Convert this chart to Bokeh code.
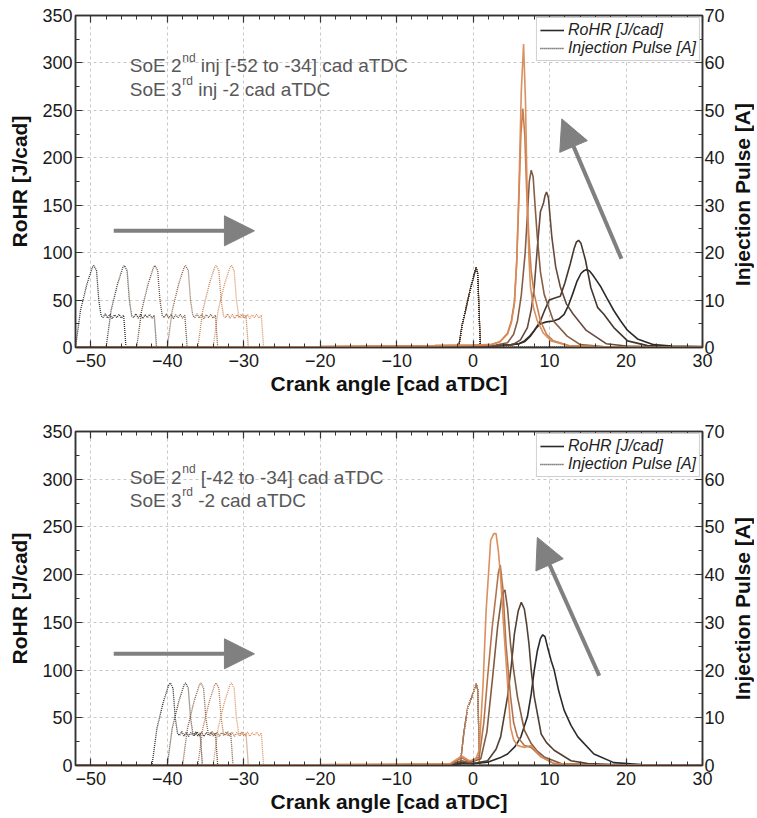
import math
from bokeh.plotting import figure
from bokeh.models import (Range1d, LinearAxis, SingleIntervalTicker, Arrow, NormalHead,
                          Label, Legend, LegendItem, CustomJSTickFormatter, Div)
from bokeh.layouts import column, row
from bokeh.embed import file_html
from bokeh.resources import INLINE

FONT = "Liberation Sans"

# ---------------- data: top panel (SoE 2nd inj -52 ... -34) ----------------
top_soe2 = [-52, -48, -44, -40, -36, -34]
top_colors = ["#1f1f1f", "#3b2c22", "#5e4030", "#80553a", "#c27844", "#d98a55"]

top_rohr_x = [
    [-52, -20, -5, 0, 3, 5, 6.0, 6.7, 7.5, 8.2, 8.8, 9.6, 10.5, 11.2, 11.9, 12.5, 13.0, 13.6, 14.1, 14.5,
     14.8, 15.2, 15.6, 16.2, 16.7, 17.5, 18.4, 19.3, 20.2, 21.5, 23.6, 26, 30],
    [-52, -20, -5, 0, 3, 5, 6.0, 6.7, 7.4, 8.0, 8.8, 9.4, 9.95, 10.6, 11.4, 12.0, 12.7, 13.2, 13.5, 13.8,
     14.1, 14.7, 15.4, 16.3, 17.1, 18.4, 20.2, 22.8, 26, 30],
    [-52, -20, -5, 0, 3, 5.2, 6.2, 7.1, 7.6, 8.0, 8.4, 8.8, 9.2, 9.4, 9.6, 9.85, 10.3, 10.8, 11.4, 12.2,
     13.1, 14.8, 17.4, 20, 25, 30],
    [-52, -20, -5, 0, 3, 4.5, 5.3, 5.8, 6.3, 6.8, 7.1, 7.35, 7.6, 7.85, 8.1, 8.4, 8.8, 9.3, 10.5, 12.3,
     14.0, 17, 22, 30],
    [-52, -20, -5, 0, 2.3, 3.5, 4.5, 5.0, 5.4, 5.7, 6.0, 6.25, 6.5, 6.75, 7.0, 7.3, 7.6, 8.0, 8.8, 9.6,
     10.5, 12.5, 16, 22, 30],
    [-52, -20, -5, 0, 2.3, 3.5, 4.5, 5.0, 5.4, 5.7, 6.0, 6.3, 6.6, 6.85, 7.1, 7.3, 7.5, 7.9, 8.4, 9.2,
     10.2, 12.5, 16, 22, 30],
]
top_rohr_y = [
    [0, 0.5, 1, 1.5, 2, 3, 4, 6, 12, 20, 25, 27, 28, 30, 35, 45, 56, 70, 78, 81,
     82, 81, 77, 70, 64, 52, 39, 28, 18, 9, 3, 1.5, 1],
    [0, 0.5, 1, 1.5, 2, 3, 4, 7, 12, 18, 28, 40, 50, 52, 54, 68, 88, 104, 111, 113,
     110, 92, 63, 42, 35, 21, 7, 2, 1, 0.5],
    [0, 0.5, 1, 1.5, 2, 3, 8, 21, 40, 64, 105, 143, 152, 160, 164, 158, 116, 85, 64, 46,
     35, 18, 4, 1.5, 0.5, 0.3],
    [0, 0.5, 1, 1.5, 2.5, 5, 14, 28, 55, 99, 140, 175, 187, 180, 150, 116, 80, 56, 28, 12,
     3, 1, 0.5, 0.2],
    [0, 1, 2, 2.5, 3, 6, 15, 28, 48, 90, 160, 225, 252, 225, 165, 115, 80, 56, 28, 14,
     7, 2, 1, 0.5, 0.2],
    [0, 1, 2, 2.5, 3, 6, 14, 26, 46, 90, 169, 270, 320, 260, 148, 95, 64, 42, 28, 15,
     7, 2, 1, 0.5, 0.2],
]

# ---------------- data: bottom panel (SoE 2nd inj -42 ... -34) ----------------
bot_soe2 = [-42, -40, -38, -36, -34]
bot_colors = ["#1f1f1f", "#4a3628", "#7a5236", "#b06c42", "#d98a55"]

bot_rohr_x = [
    [-52, -20, -3, -1.5, 0, 1.9, 3.5, 4.5, 5.5, 6.25, 7.1, 7.6, 8.0, 8.4, 8.8, 9.1, 9.4, 9.8, 10.2, 10.6,
     11.2, 11.9, 12.8, 13.7, 15.8, 18.4, 22, 30],
    [-52, -20, -3, -1.5, 0, 1.9, 3.0, 3.6, 4.5, 5.0, 5.4, 5.9, 6.3, 6.7, 7.0, 7.3, 7.6, 8.0, 8.9, 9.6,
     10.6, 12.8, 15, 20, 30],
    [-52, -20, -3, -1.5, -0.5, 1.0, 1.8, 2.56, 3.2, 3.8, 4.16, 4.5, 4.9, 5.3, 5.8, 6.7, 7.6, 8.4, 9.3, 11.5,
     15, 30],
    [-52, -20, -3, -1.5, -0.5, 0.8, 1.4, 1.9, 2.5, 3.0, 3.3, 3.55, 3.9, 4.3, 4.9, 5.3, 5.8, 6.7, 7.6, 8.9,
     10.6, 14, 30],
    [-52, -20, -3, -1.5, -0.5, 0.3, 0.8, 1.3, 1.7, 2.3, 2.7, 3.0, 3.3, 3.6, 4.0, 4.3, 4.9, 5.3, 5.8, 6.7,
     7.6, 8.9, 10.6, 14, 30],
]
bot_rohr_y = [
    [0, 0.5, 1, 2, 2, 3.5, 8, 12, 20, 30, 51, 75, 100, 120, 133, 137, 135, 122, 110, 100,
     78, 58, 42, 30, 12, 3, 1, 0.3],
    [0, 0.5, 1, 3, 2, 5, 17, 30, 72, 105, 138, 162, 171, 164, 148, 128, 100, 72, 33, 24,
     16, 5, 2, 0.5, 0.2],
    [0, 0.5, 1, 5, 3, 7, 35, 93, 145, 180, 184, 165, 127, 100, 72, 37, 23, 15, 9, 2,
     1, 0.2],
    [0, 0.5, 1, 8, 4, 9, 45, 93, 145, 180, 202, 210, 185, 127, 72, 45, 30, 21, 19, 9,
     2, 1, 0.2],
    [0, 1, 2, 10, 5, 6, 16, 85, 162, 236, 243, 243, 225, 197, 145, 110, 40, 27, 21, 19,
     21, 9, 2, 1, 0.2],
]

# ---------------- injection pulse shapes (A) ----------------
# 2nd injection: offsets from SoE [cad] and current [A]
pulse2_dx = [0, 0.65, 1.5, 2.2, 2.4, 2.75, 3.05, 3.35, 3.6, 3.9, 4.2, 4.5, 4.8, 5.1, 5.4, 5.7, 6.0, 6.3, 6.6]
pulse2_a = [0, 7.8, 13.4, 16.9, 17.3, 16.2, 9.9, 6.7, 6.3, 7.1, 6.2, 7.0, 6.1, 6.9, 6.3, 7.0, 6.2, 6.8, 0]
# 3rd injection at -2 cad aTDC
top_pulse3_x = [-1.9, -1.4, -0.9, -0.3, 0.15, 0.4, 0.6, 0.95]
top_pulse3_a = [0, 5, 8.5, 12.7, 15.5, 16.9, 15.5, 0]
bot_pulse3_x = [-1.7, -1.2, -0.7, -0.2, 0.4, 0.6, 0.85]
bot_pulse3_a = [0, 7, 12.2, 14.2, 17.1, 16, 0]

x_ticks_interval = 10
xlim = (-52, 30)
ylim = (0, 350)
ylim_inj = (0, 70)
right_title = "Injection Pulse [A]"

GRID = "#c8c8c8"
AX = "#333333"
ARROW = "#808080"
TXT = "#585858"


def style_axis(ax):
    ax.axis_line_color = AX
    ax.axis_line_width = 1.5
    ax.major_tick_line_color = AX
    ax.minor_tick_line_color = AX
    ax.major_tick_line_width = 1.2
    ax.minor_tick_line_width = 1
    ax.major_tick_in = 7
    ax.major_tick_out = 0
    ax.minor_tick_in = 4
    ax.minor_tick_out = 0
    ax.major_label_text_font = FONT
    ax.major_label_text_font_size = "18px"
    ax.major_label_text_color = "#1a1a1a"
    ax.axis_label_text_font = FONT
    ax.axis_label_text_font_style = "bold"
    ax.axis_label_text_font_size = "21px"
    ax.axis_label_text_color = "#111111"


def make_panel(height, top_b, bot_b, rohr_x, rohr_y, soe2, colors, p3x, p3a,
               line1, line2, text_y, arrow_h, arrow_d, pulse_reverse):
    p = figure(width=731, height=height, x_range=Range1d(*xlim), y_range=Range1d(*ylim),
               output_backend="svg", toolbar_location=None,
               min_border_left=75, min_border_right=29, min_border_top=top_b,
               min_border_bottom=bot_b)
    p.extra_y_ranges = {"inj": Range1d(*ylim_inj)}
    p.outline_line_color = AX
    p.outline_line_width = 1.5
    p.background_fill_color = "white"

    p.xaxis.ticker = SingleIntervalTicker(interval=x_ticks_interval, num_minor_ticks=5)
    p.yaxis.ticker = SingleIntervalTicker(interval=50, num_minor_ticks=2)
    p.xaxis.axis_label = "Crank angle [cad aTDC]"
    p.yaxis.axis_label = "RoHR [J/cad]"
    for ax in p.xaxis + p.yaxis:
        style_axis(ax)
    p.xaxis.major_label_standoff = 6
    p.xaxis.axis_label_standoff = 2
    p.yaxis.major_label_standoff = 3
    p.yaxis.axis_label_standoff = 8

    rax = LinearAxis(y_range_name="inj",
                     ticker=SingleIntervalTicker(interval=10, num_minor_ticks=2))
    style_axis(rax)
    rax.major_label_standoff = 2
    p.add_layout(rax, "right")

    tax = LinearAxis(ticker=SingleIntervalTicker(interval=x_ticks_interval, num_minor_ticks=5),
                     formatter=CustomJSTickFormatter(code="return ''"))
    style_axis(tax)
    tax.major_label_text_font_size = "0px"
    tax.major_label_standoff = 0
    p.add_layout(tax, "above")

    for g in (p.xgrid, p.ygrid):
        g.grid_line_color = GRID
        g.grid_line_dash = "3 3"
        g.grid_line_width = 1

    # injection pulses (right axis)
    order = list(range(len(soe2)))
    if pulse_reverse:
        order = order[::-1]
    pulse_r = {}
    for i in order:
        xs = [xlim[0]] + [soe2[i] + d for d in pulse2_dx] + p3x + [xlim[1]]
        ys = [0] + pulse2_a + p3a + [0]
        pulse_r[i] = p.line(xs, ys, y_range_name="inj", line_color=colors[i], line_width=1.3,
                            line_dash="1 1", line_alpha=0.95)

    # RoHR curves
    rohr_r = []
    for i in range(len(rohr_x)):
        rohr_r.append(p.line(rohr_x[i], rohr_y[i], line_color=colors[i], line_width=1.6,
                             line_alpha=0.95))

    # arrows
    for (xs_, ys_, xe_, ye_) in (arrow_h, arrow_d):
        p.add_layout(Arrow(end=NormalHead(size=30, fill_color=ARROW, line_color=ARROW),
                           x_start=xs_, y_start=ys_, x_end=xe_, y_end=ye_,
                           line_color=ARROW, line_width=4))

    # annotation text with superscripts
    tx = -44.9
    for (parts, yy) in ((line1, text_y[0]), (line2, text_y[1])):
        main1, sup, rest, off_sup, off_rest = parts
        p.add_layout(Label(x=tx, y=yy, text=main1, text_font=FONT, text_font_size="19px",
                           text_color=TXT, text_baseline="alphabetic"))
        p.add_layout(Label(x=tx, y=yy, x_offset=off_sup, y_offset=8, text=sup, text_font=FONT,
                           text_font_size="12px", text_color=TXT, text_baseline="alphabetic"))
        p.add_layout(Label(x=tx, y=yy, x_offset=off_rest, text=rest, text_font=FONT,
                           text_font_size="19px", text_color=TXT, text_baseline="alphabetic"))

    # legend
    leg = Legend(items=[LegendItem(label="RoHR [J/cad]", renderers=[rohr_r[0]]),
                        LegendItem(label="Injection Pulse [A]", renderers=[pulse_r[0]])],
                 location="top_right", margin=2, padding=3, spacing=0,
                 glyph_width=24, glyph_height=18, label_height=18, label_standoff=4,
                 label_text_font=FONT, label_text_font_style="italic",
                 label_text_font_size="16px", label_text_color="#222222",
                 border_line_color="#a0a0a0", border_line_width=1,
                 background_fill_color="white", background_fill_alpha=1)
    p.add_layout(leg)
    return p


def right_title_div(height, top_px):
    html = ('<div style="position:relative; width:24px; height:%dpx;">'
            '<div style="position:absolute; left:0; top:%dpx; width:24px; height:332px; '
            'display:flex; align-items:center; justify-content:center;">'
            '<span style="writing-mode:vertical-rl; transform:rotate(180deg); '
            'font-family:\'Liberation Sans\'; font-weight:bold; font-size:21px; '
            'color:#111111; white-space:nowrap; line-height:24px;">%s</span></div></div>'
            % (height, top_px, right_title))
    return Div(text=html, width=24, height=height, margin=0)


p1 = make_panel(407, 15, 60, top_rohr_x, top_rohr_y, top_soe2, top_colors,
                top_pulse3_x, top_pulse3_a,
                ("SoE 2", "nd", "inj [-52 to -34] cad aTDC", 52.5, 71),
                ("SoE 3", "rd", "inj -2 cad aTDC", 52.5, 68.5),
                (297, 272),
                (-47.0, 123, -28.6, 123), (19.4, 93.5, 11.6, 241),
                True)

p2 = make_panel(410, 24, 52, bot_rohr_x, bot_rohr_y, bot_soe2, bot_colors,
                bot_pulse3_x, bot_pulse3_a,
                ("SoE 2", "nd", "[-42 to -34] cad aTDC", 52.5, 71),
                ("SoE 3", "rd", "-2 cad aTDC", 52.5, 68.5),
                (302, 278),
                (-47.0, 117, -28.6, 117), (16.5, 94, 8.4, 239),
                False)

layout = column(row(p1, right_title_div(407, 29), spacing=0),
                row(p2, right_title_div(410, 36), spacing=0), spacing=0)
open("out.html", "w").write(file_html(layout, INLINE))
